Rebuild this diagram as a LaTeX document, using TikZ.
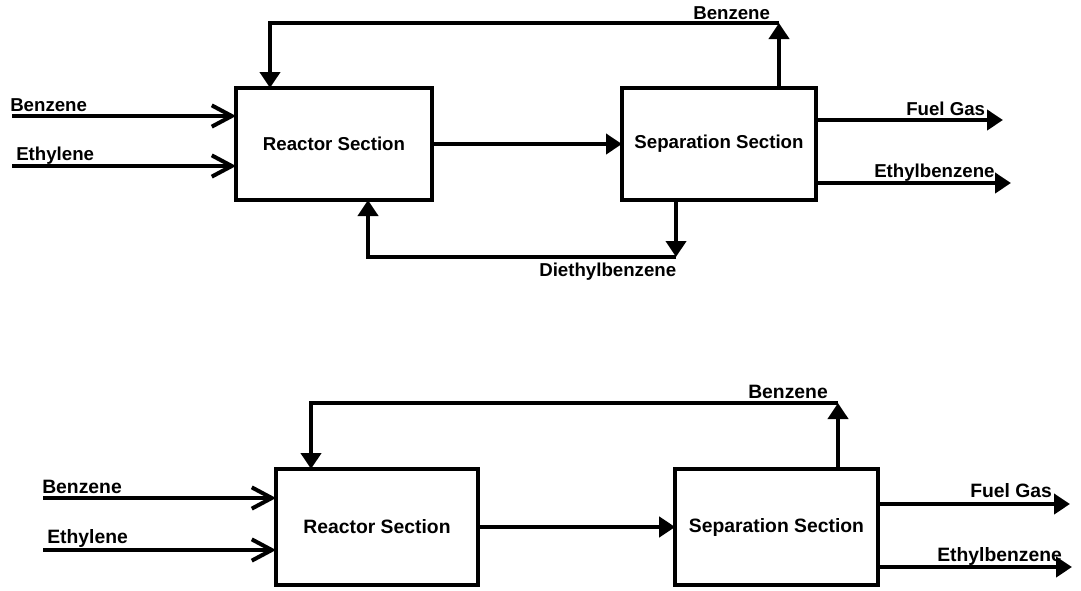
\documentclass[tikz,border=0pt]{standalone}
\usepackage{fontspec}
\setmainfont{Liberation Sans}
\usetikzlibrary{arrows.meta}
\begin{document}
\begin{tikzpicture}[x=0.75pt,y=-0.75pt,
  box/.style={draw,line width=3pt,rectangle,outer sep=0pt,inner sep=0pt,align=center},
  inflow/.style={line width=3pt,-{Straight Barb[length=15pt,width=16pt]}},
  flow/.style={line width=3pt,line join=miter,-{Triangle[length=12pt,width=15pt]}},
  lbl/.style={anchor=base west,inner sep=0pt},
  fA/.style={font=\bfseries\fontsize{14}{17}\selectfont},
  fB/.style={font=\bfseries\fontsize{14.5}{17}\selectfont}]
\useasboundingbox (0,0) rectangle (1081,590);
% ---------- top diagram ----------
\node[box,fA,minimum width=147pt,minimum height=84pt] (R1) at (334,144) {Reactor Section};
\node[box,fA,minimum width=145.5pt,minimum height=84pt] (S1) at (719,144) {Separation Section};
\coordinate (bz1) at (12,116);
\coordinate (et1) at (12,166);
\coordinate (rb1) at (779,23);
\coordinate (rc1) at (270,23);
\coordinate (fg1) at (1003,120);
\coordinate (eb1) at (1011,183);
\coordinate (db1) at (676,257);
\coordinate (dc1) at (368,257);
\draw[inflow] (bz1) -- (bz1 -| R1.west);
\draw[inflow] (et1) -- (et1 -| R1.west);
\draw[flow] (R1.east) -- (S1.west);
\draw[flow] (rb1 |- S1.north) -- (rb1);
\draw[flow] (rb1) -- (rc1) -- (rc1 |- R1.north);
\draw[flow] (fg1 -| S1.east) -- (fg1);
\draw[flow] (eb1 -| S1.east) -- (eb1);
\draw[flow] (db1 |- S1.south) -- (db1);
\draw[flow] (db1) -- (dc1) -- (dc1 |- R1.south);
\node[lbl,fA] (lbz1) at (10,111) {Benzene};
\node[lbl,fA] (let1) at (16,160) {Ethylene};
\node[lbl,fA] (lrb1) at (693,19) {Benzene};
\node[lbl,fA] (lfg1) at (906,115) {Fuel Gas};
\node[lbl,fA] (leb1) at (874,177) {Ethylbenzene};
\node[lbl,fA] (ldb1) at (539,276) {Diethylbenzene};
% ---------- bottom diagram ----------
\node[box,fB,minimum width=151.5pt,minimum height=87pt] (R2) at (377,527) {Reactor Section};
\node[box,fB,minimum width=152pt,minimum height=87pt] (S2) at (776.5,527) {Separation Section};
\coordinate (bz2) at (43,498);
\coordinate (et2) at (43,550);
\coordinate (rb2) at (838,403);
\coordinate (rc2) at (311,403);
\coordinate (fg2) at (1070,504);
\coordinate (eb2) at (1072,567);
\draw[inflow] (bz2) -- (bz2 -| R2.west);
\draw[inflow] (et2) -- (et2 -| R2.west);
\draw[flow] (R2.east) -- (S2.west);
\draw[flow] (rb2 |- S2.north) -- (rb2);
\draw[flow] (rb2) -- (rc2) -- (rc2 |- R2.north);
\draw[flow] (fg2 -| S2.east) -- (fg2);
\draw[flow] (eb2 -| S2.east) -- (eb2);
\node[lbl,fB] (lbz2) at (42,493) {Benzene};
\node[lbl,fB] (let2) at (47,543) {Ethylene};
\node[lbl,fB] (lrb2) at (748,398) {Benzene};
\node[lbl,fB] (lfg2) at (970,497) {Fuel Gas};
\node[lbl,fB] (leb2) at (937,561) {Ethylbenzene};
\end{tikzpicture}
\end{document}
